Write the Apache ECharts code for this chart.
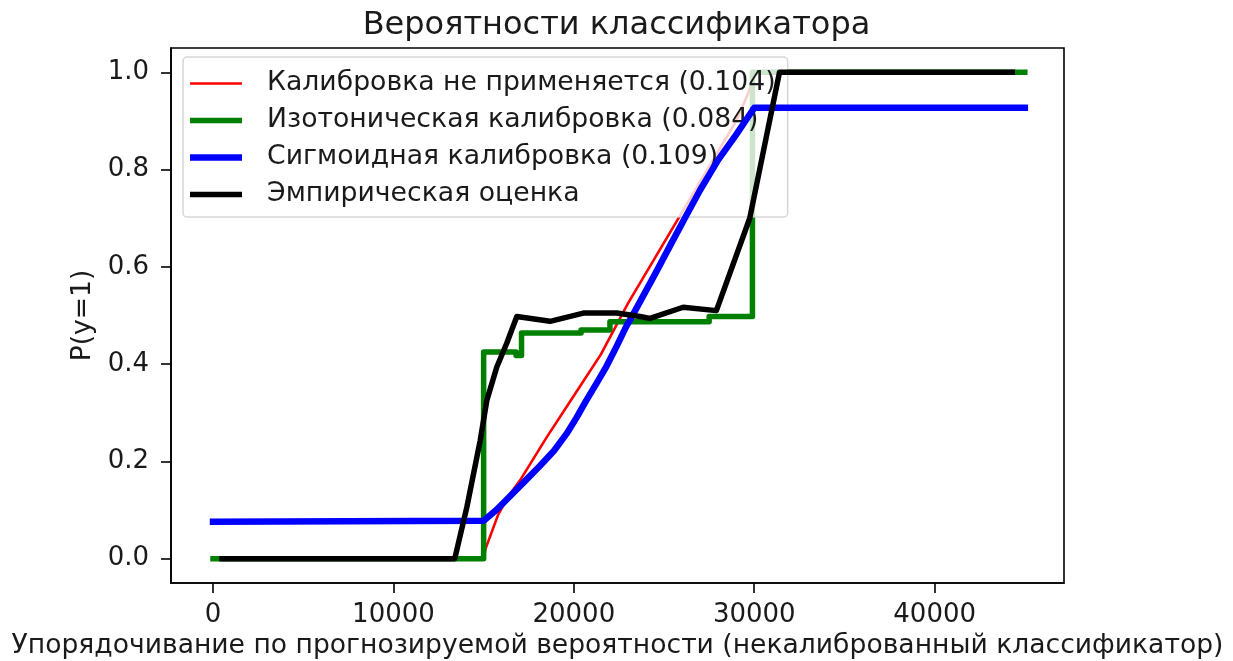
<!DOCTYPE html>
<html>
<head>
<meta charset="utf-8">
<script src="https://cdn.jsdelivr.net/npm/echarts@6/dist/echarts.min.js"></script>
<style>
html,body{margin:0;padding:0;background:#fff;}
#chart{width:1233px;height:661px;}
</style>
</head>
<body>
<div id="chart"></div>
<script>
// ---- data ----
const titleText = 'Вероятности классификатора';
const xAxisTitle = 'Упорядочивание по прогнозируемой вероятности (некалиброванный классификатор)';
const yAxisTitle = 'P(y=1)';
const xTicks = [0, 10000, 20000, 30000, 40000];
const yTicks = [0.0, 0.2, 0.4, 0.6, 0.8, 1.0];

const seriesNames = [
  'Калибровка не применяется (0.104)',
  'Изотоническая калибровка (0.084)',
  'Сигмоидная калибровка (0.109)',
  'Эмпирическая оценка'
];

const noCalX = [0, 15000, 15100, 15400, 15800, 16400, 17000, 18500, 20000, 21500, 23000, 25000, 27000, 29000, 29700, 30000, 45000];
const noCalY = [0, 0, 0.02, 0.05, 0.09, 0.13, 0.16, 0.25, 0.335, 0.42, 0.525, 0.65, 0.775, 0.9, 0.96, 1.0, 1.0];

const isoX = [0, 15000, 15000, 16800, 16800, 17100, 17100, 20400, 20400, 22000, 22000, 27500, 27500, 29900, 29900, 45000];
const isoY = [0, 0, 0.425, 0.425, 0.418, 0.418, 0.464, 0.464, 0.47, 0.47, 0.487, 0.487, 0.498, 0.498, 1.0, 1.0];

const sigX = [0, 15000, 15700, 16500, 17300, 18100, 18900, 19600, 20150, 20700, 21250, 21800, 22350, 22900, 23400, 24500, 25500, 26150, 27000, 28000, 29000, 29600, 30000, 45000];
const sigY = [0.076, 0.078, 0.10, 0.13, 0.16, 0.19, 0.222, 0.257, 0.29, 0.326, 0.36, 0.395, 0.435, 0.477, 0.51, 0.585, 0.655, 0.70, 0.758, 0.82, 0.872, 0.905, 0.927, 0.927];

const empX = [500, 13400, 14070, 14810, 15180, 15730, 16280, 16840, 18680, 20530, 22380, 23670, 24220, 26060, 27900, 29750, 31400, 44300];
const empY = [0, 0, 0.106, 0.243, 0.326, 0.394, 0.443, 0.498, 0.488, 0.505, 0.505, 0.498, 0.494, 0.517, 0.51, 0.70, 1.0, 1.0];

const colors = ['#ff0000', '#008000', '#0000ff', '#000000'];
const widths = [2.6, 5.5, 6.5, 5.5];

function pairs(xs, ys) { return xs.map((x, i) => [x, ys[i]]); }
const allData = [pairs(noCalX, noCalY), pairs(isoX, isoY), pairs(sigX, sigY), pairs(empX, empY)];

const FONT = 'DejaVu Sans';
const TXT = '#1a1a1a';

const legendIcons = widths.map(w => 'path://M0,0h52v' + w + 'h-52z');

const chart = echarts.init(document.getElementById('chart'), null, {renderer: 'canvas'});
chart.setOption({
  animation: false,
  backgroundColor: '#fff',
  title: {
    text: titleText, left: 'center', top: 5,
    textStyle: {fontFamily: FONT, fontSize: 32, fontWeight: 'normal', color: TXT}
  },
  grid: {
    left: 171, right: 169, top: 48, bottom: 78,
    containLabel: false, outerBoundsMode: 'none',
    show: true, borderColor: '#000', borderWidth: 1.6, backgroundColor: 'transparent'
  },
  legend: {
    orient: 'vertical', left: 183, top: 57,
    data: seriesNames.map((n, i) => ({name: n, icon: legendIcons[i], itemStyle: {color: colors[i]}})),
    itemWidth: 52, itemHeight: 7, itemGap: 10,
    symbolKeepAspect: true,
    padding: [13, 12, 9, 7],
    backgroundColor: 'rgba(255,255,255,0.8)',
    borderColor: 'rgba(204,204,204,0.8)', borderWidth: 1.5, borderRadius: 4,
    textStyle: {fontFamily: FONT, fontSize: 26.7, color: TXT, lineHeight: 27, padding: [0, 0, 0, 20]},
    selectedMode: false
  },
  xAxis: {
    type: 'value', min: -2330, max: 47170,
    name: xAxisTitle, nameLocation: 'middle', nameGap: 48,
    nameTextStyle: {fontFamily: FONT, fontSize: 26.6, color: TXT},
    axisLine: {show: true, onZero: false, lineStyle: {color: '#000', width: 1.6}},
    axisTick: {show: true, length: 10, customValues: xTicks, lineStyle: {color: '#000', width: 1.6}},
    axisLabel: {customValues: xTicks, margin: 19, fontFamily: FONT, fontSize: 26, color: TXT, formatter: v => String(v)},
    splitLine: {show: false}
  },
  yAxis: {
    type: 'value', min: -0.05, max: 1.05,
    name: yAxisTitle, nameLocation: 'middle', nameGap: 74, nameRotate: 90,
    nameTextStyle: {fontFamily: FONT, fontSize: 26.6, color: TXT},
    axisLine: {show: true, onZero: false, lineStyle: {color: '#000', width: 1.6}},
    axisTick: {show: true, length: 10, customValues: yTicks, lineStyle: {color: '#000', width: 1.6}},
    axisLabel: {customValues: yTicks, margin: 22, fontFamily: FONT, fontSize: 26, color: TXT, formatter: v => v.toFixed(1)},
    splitLine: {show: false}
  },
  series: seriesNames.map((name, i) => ({
    name: name, type: 'line', data: allData[i],
    symbol: 'none', showSymbol: false, smooth: false,
    color: colors[i],
    lineStyle: {color: colors[i], width: widths[i], cap: 'square', join: 'round'},
    z: 2 + i
  }))
});
</script>
</body>
</html>
